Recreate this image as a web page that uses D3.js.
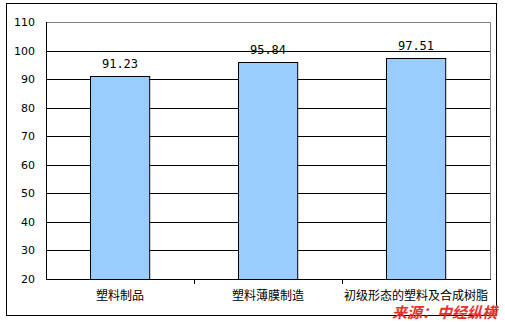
<!DOCTYPE html>
<html>
<head>
<meta charset="utf-8">
<script src="https://cdn.jsdelivr.net/npm/d3@7"></script>
<style>
  body { margin: 0; background: #fff; }
</style>
</head>
<body>
<div id="chart"></div>
<script>
// data
const categories = ["塑料制品", "塑料薄膜制造", "初级形态的塑料及合成树脂"];
const values = [91.23, 95.84, 97.51];
const yTicks = [20, 30, 40, 50, 60, 70, 80, 90, 100, 110];

const W = 505, H = 322;
const margin = { top: 22, right: 15, bottom: 43, left: 46 };
const width = W - margin.left - margin.right;
const height = H - margin.top - margin.bottom;

const svg = d3.select("#chart").append("svg")
  .attr("width", W)
  .attr("height", H);

// outer frame
svg.append("rect")
  .attr("x", 6.5).attr("y", 3.5)
  .attr("width", 490).attr("height", 312)
  .attr("fill", "none").attr("stroke", "#000");

const g = svg.append("g")
  .attr("transform", `translate(${margin.left},${margin.top})`);

const x = d3.scaleBand()
  .domain(categories)
  .range([0, width])
  .paddingInner(0.6)
  .paddingOuter(0.3);

const y = d3.scaleLinear()
  .domain([20, 110])
  .range([height, 0]);

// plot area frame (top/right grey)
g.append("path")
  .attr("d", `M0.5,${y(110) + 0.5}H${width + 0.5}V${height}`)
  .attr("fill", "none").attr("stroke", "#808080");

// gridlines
g.selectAll(".grid")
  .data(yTicks.filter(d => d > 20 && d < 110))
  .enter().append("line")
  .attr("x1", 0).attr("x2", width)
  .attr("y1", d => Math.round(y(d)) + 0.5)
  .attr("y2", d => Math.round(y(d)) + 0.5)
  .attr("stroke", "#000");

// y axis labels
g.selectAll(".ylab")
  .data(yTicks)
  .enter().append("text")
  .attr("x", -11)
  .attr("y", d => y(d) + 4)
  .attr("text-anchor", "end")
  .style("font-family", "DejaVu Sans, sans-serif")
  .style("font-size", "11px")
  .text(d => d);

// bars
g.selectAll("rect.bar")
  .data(values)
  .enter().append("rect")
  .attr("class", "bar")
  .attr("x", (d, i) => Math.round(x(categories[i])) + 0.5)
  .attr("y", d => Math.round(y(d)) + 0.5)
  .attr("width", x.bandwidth())
  .attr("height", d => height - Math.round(y(d)))
  .attr("fill", "#99ccff")
  .attr("stroke", "#000");

// value labels
g.selectAll(".val")
  .data(values)
  .enter().append("text")
  .attr("x", (d, i) => x(categories[i]) + x.bandwidth() / 2)
  .attr("y", d => y(d) - 8)
  .attr("text-anchor", "middle")
  .style("font-family", "DejaVu Sans Mono, monospace")
  .style("font-size", "12px")
  .text(d => d.toFixed(2));

// axes lines
g.append("line")
  .attr("x1", 0.5).attr("x2", 0.5)
  .attr("y1", 0).attr("y2", height)
  .attr("stroke", "#000");
g.append("line")
  .attr("x1", 0).attr("x2", width + 1)
  .attr("y1", height + 0.5).attr("y2", height + 0.5)
  .attr("stroke", "#000");

// category separator ticks
g.selectAll(".xtick")
  .data(d3.range(1, categories.length))
  .enter().append("line")
  .attr("x1", i => Math.round(i * width / categories.length) + 0.5)
  .attr("x2", i => Math.round(i * width / categories.length) + 0.5)
  .attr("y1", height).attr("y2", height + 5)
  .attr("stroke", "#000");

// category labels
g.selectAll(".xlab")
  .data(categories)
  .enter().append("text")
  .attr("x", d => x(d) + x.bandwidth() / 2)
  .attr("y", height + 21)
  .attr("text-anchor", "middle")
  .style("font-family", "Noto Sans CJK SC, sans-serif")
  .style("font-size", "12px")
  .text(d => d);

// source watermark
svg.append("text")
  .attr("x", 497)
  .attr("y", 318)
  .attr("text-anchor", "end")
  .style("font-family", "Noto Sans CJK SC, sans-serif")
  .style("font-size", "15px")
  .style("font-weight", "bold")
  .style("font-style", "italic")
  .attr("fill", "#e8302c")
  .text("来源：中经纵横");
</script>
</body>
</html>
